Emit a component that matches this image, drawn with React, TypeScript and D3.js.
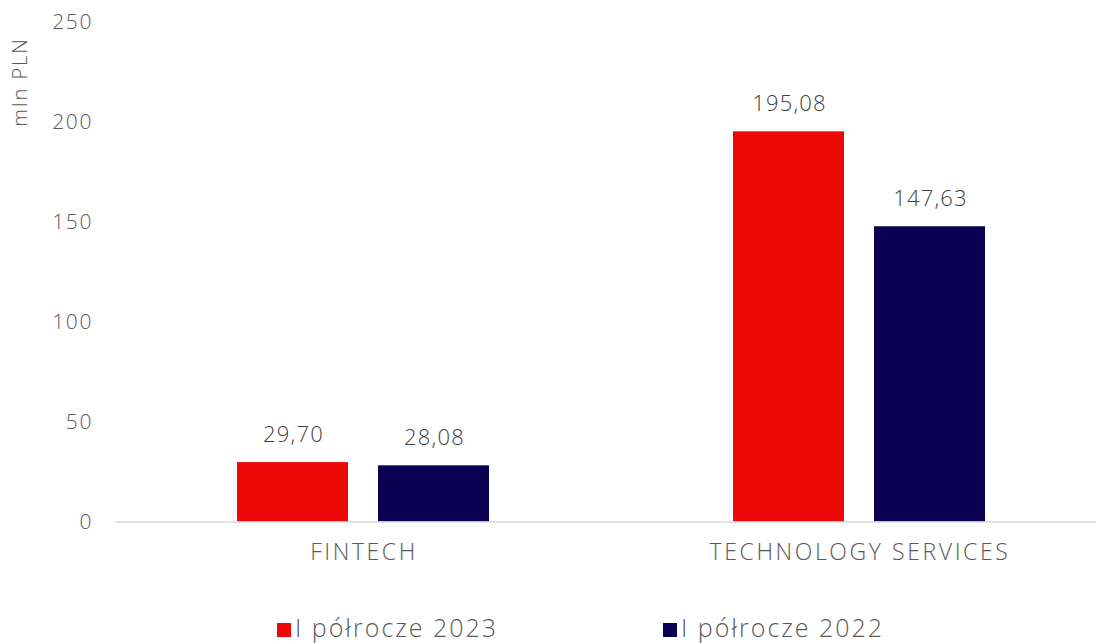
import React, { useEffect, useRef } from "react";
import * as d3 from "d3";

const categories = ["FINTECH", "TECHNOLOGY SERVICES"];
const seriesNames = ["I półrocze 2023", "I półrocze 2022"];
const values2023 = [29.7, 195.08];
const values2022 = [28.08, 147.63];
const yTicks = [0, 50, 100, 150, 200, 250];
const colors = ["#EE0707", "#0B0152"];

const width = 1096;
const height = 644;
const font = "'Open Sans', sans-serif";
const textColor = "#595959";

const fmt = (v: number) => v.toFixed(2).replace(".", ",");

const App: React.FC = () => {
  const svgRef = useRef<SVGSVGElement>(null);

  useEffect(() => {
    if (!svgRef.current) return;
    const svg = d3.select(svgRef.current);
    svg.selectAll("*").remove();

    const x0 = d3.scaleBand().domain(categories).range([115, 1107]).padding(0);
    const x1 = d3
      .scaleBand()
      .domain(seriesNames)
      .range([0, x0.bandwidth()])
      .paddingInner(0.213)
      .paddingOuter(0.865);
    const y = d3.scaleLinear().domain([0, 250]).range([521.5, 21.5]);

    // y tick labels
    svg
      .selectAll("text.ytick")
      .data(yTicks)
      .enter()
      .append("text")
      .attr("class", "ytick")
      .attr("x", 93)
      .attr("y", (d) => y(d) + 7)
      .attr("text-anchor", "end")
      .attr("font-family", font)
      .attr("font-weight", 300)
      .attr("font-size", 21)
      .attr("letter-spacing", 1.6)
      .attr("fill", textColor)
      .text((d) => d);

    // axis label
    svg
      .append("text")
      .attr("transform", "translate(27,82) rotate(-90)")
      .attr("text-anchor", "middle")
      .attr("font-family", font)
      .attr("font-weight", 300)
      .attr("font-size", 20)
      .attr("letter-spacing", 2)
      .attr("fill", textColor)
      .text("mln PLN");

    const rows = categories
      .map((c, i) => [
        { cat: c, s: seriesNames[0], v: values2023[i], color: colors[0] },
        { cat: c, s: seriesNames[1], v: values2022[i], color: colors[1] },
      ])
      .flat();

    svg
      .selectAll("rect.bar")
      .data(rows)
      .enter()
      .append("rect")
      .attr("class", "bar")
      .attr("x", (d) => (x0(d.cat) ?? 0) + (x1(d.s) ?? 0))
      .attr("y", (d) => y(d.v))
      .attr("width", x1.bandwidth())
      .attr("height", (d) => y(0) - y(d.v))
      .attr("fill", (d) => d.color);

    svg
      .selectAll("text.val")
      .data(rows)
      .enter()
      .append("text")
      .attr("class", "val")
      .attr("x", (d) => (x0(d.cat) ?? 0) + (x1(d.s) ?? 0) + x1.bandwidth() / 2 + 1)
      .attr("y", (d) => y(d.v) - 20)
      .attr("text-anchor", "middle")
      .attr("font-family", font)
      .attr("font-weight", 300)
      .attr("font-size", 22)
      .attr("letter-spacing", 1.2)
      .attr("fill", "#404040")
      .text((d) => fmt(d.v));

    // baseline
    svg
      .append("line")
      .attr("x1", 115)
      .attr("x2", 1096)
      .attr("y1", y(0) + 0.5)
      .attr("y2", y(0) + 0.5)
      .attr("stroke", "#d9d9d9")
      .attr("stroke-width", 1.5);

    svg
      .selectAll("text.cat")
      .data(categories)
      .enter()
      .append("text")
      .attr("class", "cat")
      .attr("x", (d) => (x0(d) ?? 0) + x0.bandwidth() / 2 + 1)
      .attr("y", 560)
      .attr("text-anchor", "middle")
      .attr("font-family", font)
      .attr("font-weight", 300)
      .attr("font-size", 23)
      .attr("letter-spacing", 2.6)
      .attr("fill", textColor)
      .text((d) => d);

    // legend
    const legendX = [277, 663];
    const lg = svg
      .selectAll("g.legend")
      .data(seriesNames)
      .enter()
      .append("g")
      .attr("class", "legend")
      .attr("transform", (_d, i) => `translate(${legendX[i]},630)`);
    lg.append("rect")
      .attr("x", 0)
      .attr("y", -7)
      .attr("width", 14)
      .attr("height", 14)
      .attr("fill", (_d, i) => colors[i]);
    lg.append("text")
      .attr("x", 18)
      .attr("y", 7)
      .attr("font-family", font)
      .attr("font-weight", 300)
      .attr("font-size", 25)
      .attr("letter-spacing", 2)
      .attr("fill", textColor)
      .text((d) => d);
  }, []);

  return (
    <svg
      ref={svgRef}
      width={width}
      height={height}
      style={{ position: "absolute", top: 0, left: 0, background: "#fff" }}
    />
  );
};

export default App;
